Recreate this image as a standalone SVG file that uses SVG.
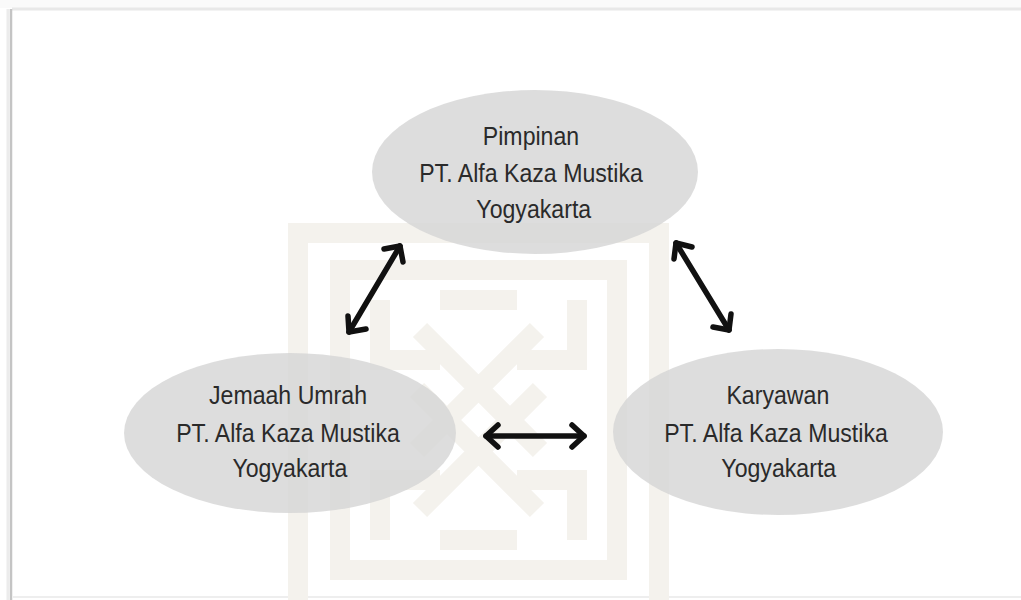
<svg xmlns="http://www.w3.org/2000/svg" width="1021" height="600" viewBox="0 0 1021 600">
<defs>
<style>
.node{fill:#d4d4d4;fill-opacity:0.8}
.lbl{font-family:"Liberation Sans",Arial,sans-serif;font-size:25px;fill:#2a2a2a;text-anchor:middle}
.arr{fill:none;stroke:#111;stroke-width:5.5;stroke-linecap:round;stroke-linejoin:round}
.wm{fill:none;stroke:#f4f2ed;stroke-width:20}
</style>
</defs>
<rect width="1021" height="600" fill="#ffffff"/>
<rect x="0" y="0" width="1021" height="8" fill="#fafafa"/>
<line x1="12" y1="9" x2="1021" y2="9" stroke="#e8e8e8" stroke-width="3"/>
<line x1="11" y1="9" x2="11" y2="600" stroke="#c4c4c4" stroke-width="2.5"/>
<line x1="8" y1="9" x2="8" y2="600" stroke="#ececec" stroke-width="3"/>
<line x1="13" y1="597" x2="1021" y2="597" stroke="#eeeeee" stroke-width="2"/>
<g id="watermark">
<rect x="298" y="233" width="361" height="380" class="wm"/>
<rect x="340" y="270" width="277" height="300" class="wm" stroke-width="16"/>
<path class="wm" d="M380 300 L380 360 L440 360 M577 300 L577 360 L517 360 M380 540 L380 480 L440 480 M577 540 L577 480 L517 480" stroke-width="16"/>
<path class="wm" d="M420 330 L540 450 M537 330 L417 450 M420 510 L540 390 M537 510 L417 390" stroke-width="18"/>
<path class="wm" d="M440 300 L517 300 M440 540 L517 540" stroke-width="16"/>
</g>
<g id="node-pimpinan">
<ellipse cx="535" cy="172" rx="163" ry="82" class="node"/>
<g transform="translate(531,0) scale(0.925,1)">
<text class="lbl" x="0" y="145">Pimpinan</text>
<text class="lbl" x="0" y="182">PT. Alfa Kaza Mustika</text>
<text class="lbl" x="3" y="218">Yogyakarta</text>
</g>
</g>
<g id="node-jemaah">
<ellipse cx="290" cy="433" rx="166" ry="80" class="node"/>
<g transform="translate(288,0) scale(0.925,1)">
<text class="lbl" x="0" y="404">Jemaah Umrah</text>
<text class="lbl" x="0" y="442">PT. Alfa Kaza Mustika</text>
<text class="lbl" x="2" y="477">Yogyakarta</text>
</g>
</g>
<g id="node-karyawan">
<ellipse cx="778" cy="432" rx="165" ry="83" class="node"/>
<g transform="translate(776,0) scale(0.925,1)">
<text class="lbl" x="2" y="404">Karyawan</text>
<text class="lbl" x="0" y="442">PT. Alfa Kaza Mustika</text>
<text class="lbl" x="3" y="477">Yogyakarta</text>
</g>
</g>
<g id="connectors">
<path class="arr" d="M400 246 L349 332"/>
<path class="arr" d="M384 249 L400 246 L403 262"/>
<path class="arr" d="M348 316 L349 332 L366 329"/>
<path class="arr" d="M676 243 L729 330"/>
<path class="arr" d="M674 259 L676 243 L692 247"/>
<path class="arr" d="M713 327 L729 330 L731 314"/>
<path class="arr" d="M486 436 L584 436"/>
<path class="arr" d="M498 425 L486 436 L498 447"/>
<path class="arr" d="M572 425 L584 436 L572 447"/>
</g>
</svg>
